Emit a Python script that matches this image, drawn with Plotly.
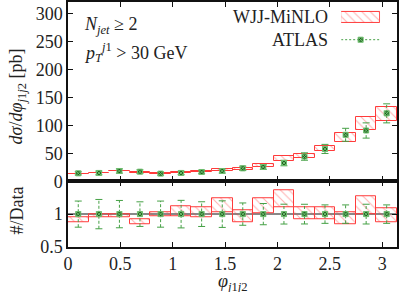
import plotly.graph_objects as go

# ---------------- data ----------------
phi_centers = [0.098, 0.295, 0.491, 0.687, 0.884, 1.080, 1.276, 1.473,
               1.669, 1.865, 2.062, 2.258, 2.454, 2.651, 2.847, 3.043]
bin_width = 0.19635

atlas = [14.1, 14.8, 18.3, 17.1, 13.6, 14.8, 16.5, 18.3,
         23.0, 25.4, 32.5, 44.1, 57.7, 82.9, 90.6, 121.2]
atlas_err = [2.8, 3.3, 3.8, 3.2, 2.7, 3.1, 3.1, 3.7,
             3.9, 4.1, 4.9, 6.6, 8.1, 11.6, 13.6, 17.0]

minlo_lo = [12.4, 14.1, 17.4, 14.4, 13.2, 14.4, 15.7, 18.8,
            20.2, 25.9, 35.8, 41.0, 53.1, 69.6, 90.6, 106.7]
minlo_hi = [13.4, 14.8, 18.3, 15.9, 13.9, 16.6, 18.3, 22.7,
            24.2, 31.5, 44.2, 49.0, 63.5, 85.4, 115.1, 132.1]

x_ticks = [0, 0.5, 1, 1.5, 2, 2.5, 3]
x_ticklabels = ["0", "0.5", "1", "1.5", "2", "2.5", "3"]
y_ticks = [0, 50, 100, 150, 200, 250, 300]
ratio_ticks = [0.5, 1]

# ---------------- styles ----------------
FONT = "Liberation Serif"
FS = 18
TXT = "#222222"
RED = "#ff3b3b"
HATCH = "rgba(255,60,60,0.8)"
GREEN = "#45a045"
DKGREEN = "#1f5f1f"
PATTERN = dict(shape="\\", fgcolor=HATCH, size=6, solidity=0.18,
               bgcolor="rgba(255,255,255,0)")

fig = go.Figure()


def band(xs, lo, hi, xa, ya):
    return go.Bar(
        x=xs, base=lo, y=[h - l for h, l in zip(hi, lo)],
        width=[bin_width] * len(xs), xaxis=xa, yaxis=ya,
        marker=dict(color="rgba(255,255,255,0)",
                    line=dict(color=RED, width=1), pattern=PATTERN),
        showlegend=False, hoverinfo="skip")


def data_pts(xs, ys, errs, xa, ya):
    ex, ey = [], []
    for x, y, e in zip(xs, ys, errs):
        ex += [x, x, None]
        ey += [y - e, y + e, None]
    tr_err = go.Scatter(x=ex, y=ey, mode="lines", xaxis=xa, yaxis=ya,
                        line=dict(color=GREEN, width=1, dash="3px,2px"),
                        showlegend=False, hoverinfo="skip")
    cx = [x for x in xs for _ in (0, 1)]
    cy = [v for y, e in zip(ys, errs) for v in (y - e, y + e)]
    tr_cap = go.Scatter(x=cx, y=cy, mode="markers", xaxis=xa, yaxis=ya,
                        marker=dict(symbol="line-ew-open", size=5, color=GREEN,
                                    line=dict(color=GREEN, width=1)),
                        showlegend=False, hoverinfo="skip")
    tr_pt = go.Scatter(x=xs, y=ys, mode="markers", xaxis=xa, yaxis=ya,
                       marker=dict(symbol="square-x", size=5, color=DKGREEN,
                                   line=dict(color="#6fbf6f", width=1)),
                       showlegend=False, hoverinfo="skip")
    return [tr_err, tr_cap, tr_pt]


# main panel
fig.add_trace(band(phi_centers, minlo_lo, minlo_hi, "x", "y"))
for t in data_pts(phi_centers, atlas, atlas_err, "x", "y"):
    fig.add_trace(t)

# ratio panel
r_lo = [l / d for l, d in zip(minlo_lo, atlas)]
r_hi = [h / d for h, d in zip(minlo_hi, atlas)]
r_err = [e / d for e, d in zip(atlas_err, atlas)]
fig.add_trace(band(phi_centers, r_lo, r_hi, "x2", "y2"))
for t in data_pts(phi_centers, [1.0] * len(atlas), r_err, "x2", "y2"):
    fig.add_trace(t)

W, H = 399, 292
L, R, T, B = 68, 1, 0, 45
PW = W - L - R
PH = H - T - B
split = (PH - 180.7) / PH


def px_x(p):  # pixel -> plot-area paper fraction
    return (p - L) / PW


def px_y(p):
    return (PH + T - p) / PH


# legend samples (overlay axes)
fig.add_trace(go.Bar(x=[0.5], base=[10], y=[11], width=[1], xaxis="x3", yaxis="y3",
                     marker=dict(color="rgba(255,255,255,0)",
                                 line=dict(color=RED, width=1), pattern=PATTERN),
                     showlegend=False, hoverinfo="skip"))
fig.add_trace(go.Scatter(x=[0, 1], y=[38, 38], mode="lines", xaxis="x3", yaxis="y3",
                         line=dict(color=GREEN, width=1, dash="2px,2px"),
                         showlegend=False, hoverinfo="skip"))
fig.add_trace(go.Scatter(x=[0.5], y=[38], mode="markers", xaxis="x3", yaxis="y3",
                         marker=dict(symbol="square-x", size=5, color=DKGREEN,
                                     line=dict(color="#6fbf6f", width=1)),
                         showlegend=False, hoverinfo="skip"))

axis_common = dict(showline=True, linecolor="#111111", linewidth=1.5,
                   mirror="ticks", ticks="inside", ticklen=5, tickwidth=1,
                   tickcolor="#111111", showgrid=False, zeroline=False,
                   tickfont=dict(family=FONT, size=FS, color=TXT))

fig.update_layout(
    width=W, height=H,
    margin=dict(l=L, r=R, t=T, b=B),
    paper_bgcolor="white", plot_bgcolor="white",
    barmode="overlay", bargap=0,
    showlegend=False,
    font=dict(family=FONT, size=FS, color=TXT),
    xaxis=dict(domain=[0, 1], anchor="y", range=[0, 3.1416],
               tickvals=x_ticks, showticklabels=False, **axis_common),
    yaxis=dict(domain=[split, 1], anchor="x", range=[0, 320],
               tickvals=y_ticks, **axis_common),
    xaxis2=dict(domain=[0, 1], anchor="y2", range=[0, 3.1416],
                tickvals=x_ticks, ticktext=x_ticklabels, **axis_common),
    yaxis2=dict(domain=[0, split], anchor="x2", range=[0.5, 1.5],
                tickvals=ratio_ticks, ticktext=["0.5", "1"], **axis_common),
    xaxis3=dict(domain=[px_x(342), px_x(381)], anchor="y3", range=[0, 1],
                visible=False, fixedrange=True),
    yaxis3=dict(domain=[px_y(44), px_y(6)], anchor="x3",
                range=[44, 6], visible=False, fixedrange=True),
)

fig.add_shape(type="line", xref="x2 domain", yref="y2", x0=0, x1=1, y0=1, y1=1,
              line=dict(color="#888888", width=2), layer="below")

ann = dict(showarrow=False, font=dict(family=FONT, size=FS, color=TXT))
fig.add_annotation(x=px_x(17), y=px_y(95), xref="paper", yref="paper",
                   text="<i>dσ</i>/<i>dφ</i><sub><i>j</i>1<i>j</i>2</sub> [pb]",
                   textangle=-90, xanchor="center", yanchor="middle", **ann)
fig.add_annotation(x=px_x(17), y=px_y(210), xref="paper", yref="paper",
                   text="#/Data", textangle=-90, xanchor="center",
                   yanchor="middle", **ann)
fig.add_annotation(x=px_x(233), y=px_y(283), xref="paper", yref="paper",
                   text="<i>φ</i><sub><i>j</i>1<i>j</i>2</sub>",
                   xanchor="center", yanchor="middle", **ann)
fig.add_annotation(x=px_x(82), y=px_y(24), xref="paper", yref="paper",
                   text="<i>N</i><sub><i>jet</i></sub> ≥ 2",
                   xanchor="left", yanchor="middle", **ann)
fig.add_annotation(x=px_x(82), y=px_y(51), xref="paper", yref="paper",
                   text="<i>p</i><sub><i>T</i></sub><sup><i>j</i>1</sup> > 30 GeV",
                   xanchor="left", yanchor="middle", **ann)
fig.add_annotation(x=px_x(331), y=px_y(15), xref="paper", yref="paper",
                   text="WJJ-MiNLO", xanchor="right", yanchor="middle", **ann)
fig.add_annotation(x=px_x(331), y=px_y(38), xref="paper", yref="paper",
                   text="ATLAS", xanchor="right", yanchor="middle", **ann)

fig.write_html("out.html", config={"displayModeBar": False},
               post_script="document.body.style.margin='0px';")
